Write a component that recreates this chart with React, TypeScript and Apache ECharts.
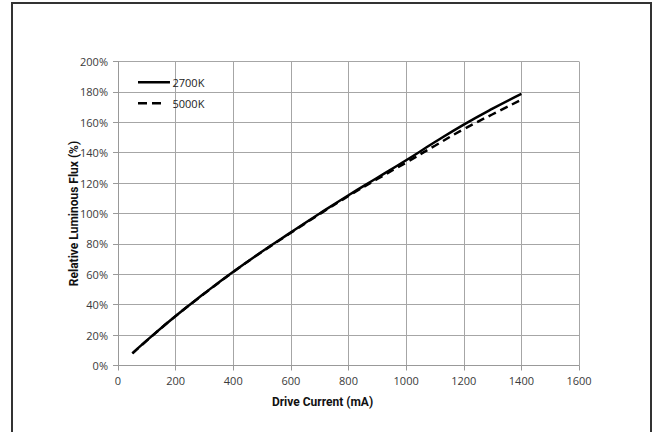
import React, { useEffect, useRef } from "react";
import * as echarts from "echarts";

const currents = [50, 100, 200, 300, 400, 500, 600, 700, 800, 900, 1000, 1100, 1200, 1300, 1400];
const flux2700 = [8, 16.5, 32.6, 47.5, 61.7, 75, 87.6, 100, 112, 123.5, 135, 147, 158.5, 169, 178.7];
const flux5000 = [8, 16.4, 32.5, 47.3, 61.5, 74.8, 87.3, 99.6, 111.5, 122.7, 133.5, 144.6, 155.5, 165.3, 174.8];
const seriesNames = ["2700K", "5000K"];

const solidIcon = "path://M0,0h0.01v0.01h-0.01z M0,6h32v2.6h-32z M0,14h0.01v0.01h-0.01z";
const dashedIcon = "path://M0,0h0.01v0.01h-0.01z M0,6h9v2.6h-9z M14,6h9v2.6h-9z M31.99,14h0.01v0.01h-0.01z";

export default function App() {
  const ref = useRef<HTMLDivElement>(null);
  useEffect(() => {
    if (!ref.current) return;
    const chart = echarts.init(ref.current, undefined, { renderer: "svg" });
    const tickFont = { fontFamily: "'Open Sans', 'DejaVu Sans', sans-serif", fontSize: 11, color: "#3a3a3a" };
    const nameFont = { fontFamily: "Roboto, 'Liberation Sans', sans-serif", fontSize: 12, fontWeight: "bold" as const, color: "#111" };
    chart.setOption({
      animation: false,
      backgroundColor: "#fff",
      graphic: [
        {
          type: "rect",
          shape: { x: 12, y: 3, width: 639, height: 440 },
          style: { fill: "none", stroke: "#333", lineWidth: 2 },
          silent: true,
        },
      ],
      grid: { left: 118, right: 78, top: 61.5, bottom: 66.5 },
      legend: {
        orient: "vertical",
        left: 133,
        top: 70,
        itemWidth: 33,
        itemHeight: 14,
        itemGap: 7,
        textStyle: { fontFamily: "'Open Sans', 'DejaVu Sans', sans-serif", fontSize: 11, color: "#222", padding: [0, 0, 0, -3] },
        data: [
          { name: seriesNames[0], icon: solidIcon, itemStyle: { color: "#000" } },
          { name: seriesNames[1], icon: dashedIcon, itemStyle: { color: "#000" } },
        ],
      },
      xAxis: {
        type: "value",
        min: 0,
        max: 1600,
        interval: 200,
        name: "Drive Current (mA)",
        nameLocation: "middle",
        nameGap: 30,
        nameMoveOverlap: false,
        nameTextStyle: { ...nameFont, padding: [0, 52, 0, 0] },
        axisLine: { show: true, lineStyle: { color: "#999" } },
        axisTick: { show: true, length: 5, lineStyle: { color: "#999" } },
        axisLabel: { ...tickFont, margin: 9, formatter: (v: number) => String(v) },
        splitLine: { show: true, lineStyle: { color: "#a6a6a6", width: 1 } },
      },
      yAxis: {
        type: "value",
        min: 0,
        max: 200,
        interval: 20,
        name: "Relative Luminous Flux (%)",
        nameLocation: "middle",
        nameGap: 38,
        nameMoveOverlap: false,
        nameTextStyle: nameFont,
        axisLine: { show: true, lineStyle: { color: "#999" } },
        axisTick: { show: true, length: 5, lineStyle: { color: "#999" } },
        axisLabel: { ...tickFont, margin: 10, formatter: (v: number) => v + "%" },
        splitLine: { show: true, lineStyle: { color: "#a6a6a6", width: 1 } },
      },
      series: [
        {
          name: seriesNames[0],
          type: "line",
          data: currents.map((c, i) => [c, flux2700[i]]),
          symbol: "none",
          smooth: true,
          lineStyle: { color: "#000", width: 2.5, type: "solid" },
          itemStyle: { color: "#000" },
          z: 3,
        },
        {
          name: seriesNames[1],
          type: "line",
          data: currents.map((c, i) => [c, flux5000[i]]),
          symbol: "none",
          smooth: true,
          lineStyle: { color: "#000", width: 2.5, type: [8, 5] },
          itemStyle: { color: "#000" },
          z: 2,
        },
      ],
    });
    return () => chart.dispose();
  }, []);
  return <div ref={ref} style={{ position: "fixed", left: 0, top: 0, width: 657, height: 432 }} />;
}
